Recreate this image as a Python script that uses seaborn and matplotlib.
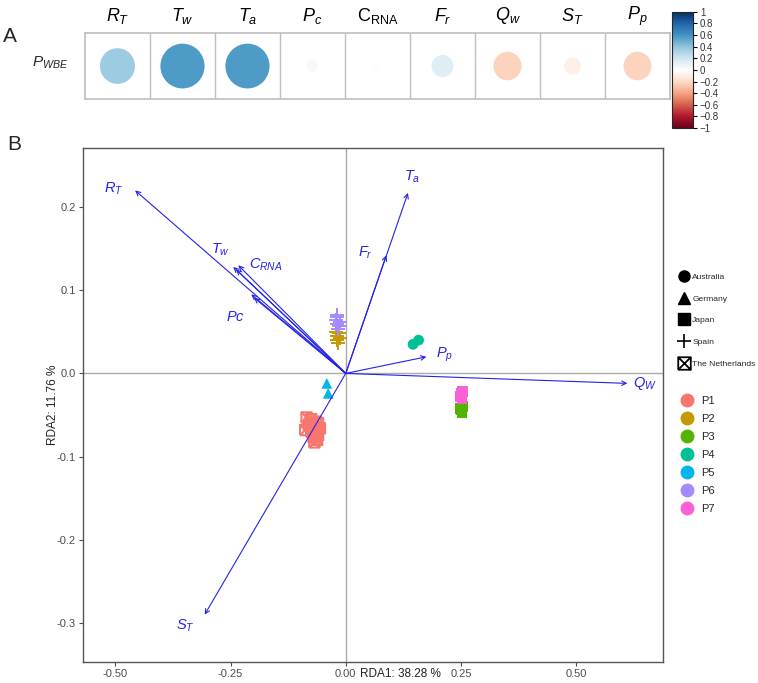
import numpy as np
import pandas as pd
import seaborn as sns
import matplotlib.pyplot as plt
from matplotlib.patches import Ellipse
from matplotlib.path import Path
from matplotlib.lines import Line2D
from matplotlib.colors import LinearSegmentedColormap
import matplotlib as mpl

sns.set_theme(style="white")
plt.rcParams['font.family'] = ['Liberation Sans', 'DejaVu Sans']
plt.rcParams['mathtext.fontset'] = 'custom'
plt.rcParams['mathtext.rm'] = 'Liberation Sans'
plt.rcParams['mathtext.it'] = 'Liberation Sans:italic'

# ---- panel A data: correlation of P_WBE with each variable
corr_labels = [r'$R_T$', r'$T_w$', r'$T_a$', r'$P_c$', r'C$_{\rm RNA}$', r'$F_r$', r'$Q_w$', r'$S_T$', r'$P_p$']
corr_values = [0.36, 0.57, 0.57, 0.04, 0.015, 0.14, -0.23, -0.085, -0.23]

# ---- panel B data: biplot arrows
arrow_labels = [r'$R_T$', r'$T_w$', r'$C_{RNA}$', r'$Pc$', r'$F_r$', r'$T_a$', r'$P_p$', r'$Q_W$', r'$S_T$']
arrow_x = [-0.457, -0.244, -0.233, -0.199, 0.088, 0.135, 0.175, 0.611, -0.306]
arrow_y = [0.220, 0.128, 0.130, 0.091, 0.142, 0.217, 0.020, -0.012, -0.290]
label_x = [-0.503, -0.271, -0.174, -0.239, 0.043, 0.143, 0.215, 0.650, -0.347]
label_y = [0.222, 0.149, 0.131, 0.068, 0.145, 0.236, 0.022, -0.012, -0.304]
# second, shorter arrows drawn close to T_w / Pc
extra_x = [-0.238, -0.205]
extra_y = [0.125, 0.095]

# ---- panel B data: site scores
p1_x = [-0.085, -0.075, -0.065, -0.080, -0.070, -0.060, -0.088, -0.075, -0.065, -0.056, -0.070, -0.062, -0.068, -0.064, -0.078, -0.060]
p1_y = [-0.053, -0.055, -0.058, -0.062, -0.064, -0.060, -0.068, -0.070, -0.072, -0.066, -0.077, -0.080, -0.083, -0.075, -0.060, -0.074]
p2_x = [-0.020, -0.015, -0.018, -0.012, -0.022, -0.016]
p2_y = [0.045, 0.048, 0.040, 0.043, 0.050, 0.036]
p3_x = [0.248, 0.252, 0.250, 0.254]
p3_y = [-0.042, -0.047, -0.044, -0.040]
p4_x = [0.146, 0.158]
p4_y = [0.035, 0.040]
p5_x = [-0.041, -0.038]
p5_y = [-0.012, -0.024]
p6_x = [-0.020, -0.015, -0.022, -0.012, -0.018, -0.016, -0.020]
p6_y = [0.060, 0.057, 0.064, 0.062, 0.068, 0.053, 0.070]
p7_x = [0.250, 0.252, 0.248, 0.254]
p7_y = [-0.024, -0.030, -0.028, -0.022]

site_names = ['P1', 'P2', 'P3', 'P4', 'P5', 'P6', 'P7']
site_colors = ['#F8766D', '#C49A00', '#53B400', '#00C094', '#00B6EB', '#A58AFF', '#FB61D7']
site_country = ['The Netherlands', 'Spain', 'Japan', 'Australia', 'Germany', 'Spain', 'Japan']
site_x = [p1_x, p2_x, p3_x, p4_x, p5_x, p6_x, p7_x]
site_y = [p1_y, p2_y, p3_y, p4_y, p5_y, p6_y, p7_y]
countries = ['Australia', 'Germany', 'Japan', 'Spain', 'The Netherlands']

# square with a cross (ggplot shape 7)
sq_x = Path([(-1, -1), (1, -1), (1, 1), (-1, 1), (-1, -1), (-1, -1), (1, 1), (-1, 1), (1, -1)],
            [Path.MOVETO, Path.LINETO, Path.LINETO, Path.LINETO, Path.LINETO,
             Path.MOVETO, Path.LINETO, Path.MOVETO, Path.LINETO])
country_marker = {'Australia': 'o', 'Germany': '^', 'Japan': 's', 'Spain': '+', 'The Netherlands': sq_x}

# corrplot-style diverging palette
col2 = ["#67001F", "#B2182B", "#D6604D", "#F4A582", "#FDDBC7", "#FFFFFF",
        "#D1E5F0", "#92C5DE", "#4393C3", "#2166AC", "#053061"]
cmap = LinearSegmentedColormap.from_list('col2', col2)
norm = mpl.colors.Normalize(-1, 1)

fig = plt.figure(figsize=(7.58, 6.83), dpi=100)

# ================= panel A
axA = fig.add_axes([0.1121, 0.855, 0.7718, 0.0966])
for i, v in enumerate(corr_values):
    d = 0.9 * np.sqrt(abs(v))
    axA.add_patch(Ellipse((i + 0.5, 0.5), d, d, facecolor=cmap(norm(v)), edgecolor='none'))
axA.set_xlim(0, 9)
axA.set_ylim(0, 1)
for k in range(1, 9):
    axA.axvline(k, color='#BEBEBE', lw=1)
for s in axA.spines.values():
    s.set_color('#BEBEBE')
    s.set_linewidth(1.2)
axA.set_xticks([])
axA.set_yticks([])
for i, lab in enumerate(corr_labels):
    axA.text(i + 0.5, 1.26, lab, ha='center', va='center', fontsize=13, color='black')
axA.text(-0.25, 0.55, r'$P_{WBE}$', ha='right', va='center', fontsize=11)

cax = fig.add_axes([0.8865, 0.8126, 0.0277, 0.170])
cb = mpl.colorbar.ColorbarBase(cax, cmap=cmap, norm=norm)
cb.set_ticks(np.round(np.arange(-1, 1.01, 0.2), 1))
cb.set_ticklabels(['\u22121', '\u22120.8', '\u22120.6', '\u22120.4', '\u22120.2', '0', '0.2', '0.4', '0.6', '0.8', '1'])
cax.tick_params(labelsize=7, length=3, width=0.8, color='black', pad=2)
for t in cax.get_yticklabels():
    t.set_color('#333333')
cb.outline.set_linewidth(0.8)

fig.text(0.004, 0.947, 'A', fontsize=15, va='center')
fig.text(0.010, 0.788, 'B', fontsize=15, va='center')

# ================= panel B
ax = fig.add_axes([0.1095, 0.0307, 0.765, 0.7526])
ax.axhline(0, color='#AAAAAA', lw=1, zorder=1)
ax.axvline(0, color='#AAAAAA', lw=1, zorder=1)

for i in range(len(site_names)):
    df = pd.DataFrame({'x': site_x[i], 'y': site_y[i]})
    m = country_marker[site_country[i]]
    if m == '+':
        sns.scatterplot(data=df, x='x', y='y', ax=ax, marker='+', color=site_colors[i],
                        s=110, linewidth=1.4, legend=False, zorder=3)
    elif m is sq_x:
        ax.scatter(df['x'], df['y'], marker=sq_x, s=55, facecolors='none',
                   edgecolors=site_colors[i], linewidths=1.5, zorder=3)
    else:
        sns.scatterplot(data=df, x='x', y='y', ax=ax, marker=m, color=site_colors[i],
                        s=60, edgecolor='none', legend=False, zorder=3)

arrow_color = '#2323E6'
for xx, yy in zip(arrow_x + extra_x, arrow_y + extra_y):
    ax.annotate('', xy=(xx, yy), xytext=(0, 0),
                arrowprops=dict(arrowstyle='->', color=arrow_color, lw=0.8,
                                shrinkA=0, shrinkB=0, mutation_scale=8), zorder=4)
for lx, ly, lab in zip(label_x, label_y, arrow_labels):
    ax.text(lx, ly, lab, color=arrow_color, fontsize=10.5, ha='center', va='center', zorder=5)

ax.set_xlim(-0.570, 0.688)
ax.set_ylim(-0.347, 0.271)
ax.set_xticks([-0.5, -0.25, 0, 0.25, 0.5])
ax.set_xticklabels(['-0.50', '-0.25', '0.00', '0.25', '0.50'])
ax.set_yticks([-0.3, -0.2, -0.1, 0.0, 0.1, 0.2])
ax.set_yticklabels(['-0.3', '-0.2', '-0.1', '0.0', '0.1', '0.2'])
ax.tick_params(labelsize=8, colors='#4D4D4D', length=3, width=0.8, direction='out', pad=2)
ax.tick_params(axis='both', bottom=True, left=True)
for s in ax.spines.values():
    s.set_color('#555555')
    s.set_linewidth(1.0)
ax.set_xlabel('RDA1: 38.28 %', fontsize=8.5, color='#222222', labelpad=0)
ax.xaxis.set_label_coords(0.478, -0.012, transform=ax.transAxes)
ax.xaxis.label.set_ha('left')
ax.set_ylabel('RDA2: 11.76 %', fontsize=8.5, color='#222222', labelpad=2)
ax.yaxis.set_label_coords(-0.042, 0.5)

# legends
shape_handles = []
for c in countries:
    mk = country_marker[c]
    if mk == '+':
        h = Line2D([], [], marker='+', ls='none', color='black', markersize=10, markeredgewidth=1.2)
    elif mk is sq_x:
        h = Line2D([], [], marker=sq_x, ls='none', color='black', markerfacecolor='none', markersize=9, markeredgewidth=1.3)
    else:
        h = Line2D([], [], marker=mk, ls='none', color='black', markersize=8)
    shape_handles.append(h)
leg1 = fig.legend(shape_handles, countries, loc='upper left', bbox_to_anchor=(0.892, 0.605),
                  frameon=False, fontsize=6.1, handletextpad=0.5, labelspacing=1.62,
                  handlelength=1.0, borderaxespad=0)
color_handles = [Line2D([], [], marker='o', ls='none', color=c, markersize=9) for c in site_colors]
leg2 = fig.legend(color_handles, site_names, loc='upper left', bbox_to_anchor=(0.893, 0.427),
                  frameon=False, fontsize=8, handletextpad=0.8, labelspacing=0.72,
                  handlelength=1.0, borderaxespad=0)

fig.savefig('out.png', dpi=100)
